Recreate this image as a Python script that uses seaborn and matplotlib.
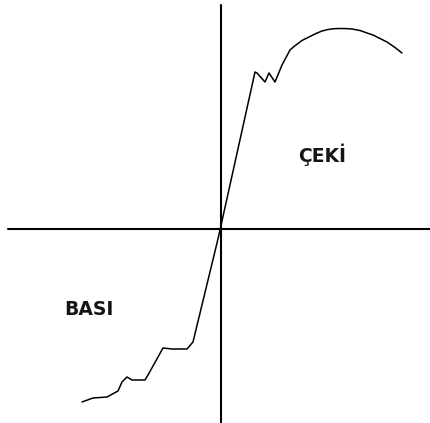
import matplotlib
matplotlib.use("Agg")
import matplotlib.pyplot as plt
import seaborn as sns
import pandas as pd

# Compression branch (BASI), from far end towards the origin
compression_strain = [-138, -127, -113, -102, -98, -93, -88, -75, -72, -57, -48, -33, -27, -3, 0]
compression_stress = [-172, -168, -167, -161, -152, -147, -150, -150, -145, -118, -119, -119, -112, -13, 0]

# Tension branch (ÇEKİ), from origin outwards
tension_strain = [0, 35, 37, 45, 49, 55, 62, 70, 74, 78, 82, 87, 92, 96, 102, 108, 114, 120, 126, 132, 140, 147, 153, 160, 167, 175, 182]
tension_stress = [0, 158, 157, 148, 157, 148, 165, 180, 183.5, 186.5, 189.5, 192, 194.5, 196.5, 199, 200.5, 201.3, 201.5, 201.4, 201, 199.5, 197, 195, 191.5, 188, 182.5, 177]

labels = ["ÇEKİ", "BASI"]

sns.set_style("white")
plt.rcParams['font.family'] = ['DejaVu Sans']

fig = plt.figure(figsize=(4.30, 4.23), dpi=100)
ax = fig.add_axes([0, 0, 1, 1])

df = pd.DataFrame({
    "strain": compression_strain + tension_strain[1:],
    "stress": compression_stress + tension_stress[1:],
})
sns.lineplot(data=df, x="strain", y="stress", sort=False, estimator=None,
             color="black", linewidth=1.1, ax=ax)

ax.set_xlim(-220, 210)
ax.set_ylim(-193, 230)

# Coordinate axes through the origin
ax.axvline(0.6, ymin=0, ymax=(225 + 193) / 423, color="black", linewidth=1.5)
ax.axhline(0.6, xmin=8 / 430, xmax=1, color="black", linewidth=1.5)

ax.text(102, 68, labels[0], fontsize=13.5, fontweight="bold", color="#151515",
        ha="center", va="baseline")
ax.text(-131, -85, labels[1], fontsize=13.5, fontweight="bold", color="#151515",
        ha="center", va="baseline")

ax.set_axis_off()
fig.savefig("out.png", dpi=100, facecolor="white")
